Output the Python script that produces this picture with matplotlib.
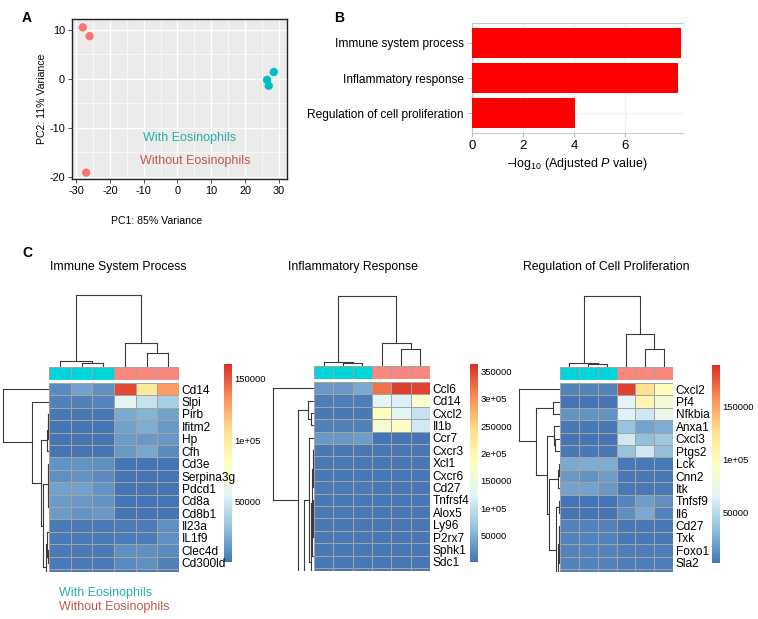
import numpy as np
import matplotlib
matplotlib.use('Agg')
import matplotlib.pyplot as plt
from matplotlib import font_manager
from matplotlib.colors import LinearSegmentedColormap, ListedColormap, Normalize
from matplotlib.cm import ScalarMappable

# ---- data ----
# A: PCA
pc1_with = [26.5, 27.0, 28.5]
pc2_with = [-0.2, -1.4, 1.4]
pc1_without = [-28.0, -26.0, -27.0]
pc2_without = [10.5, 8.7, -19.1]

# B: enrichment
terms = ['Immune system process', 'Inflammatory response', 'Regulation of cell proliferation']
neglog_p = [8.16, 8.05, 4.02]

# C: heatmaps (values in thousands, cols: 3 with eos, 3 without; last row is cut off)
genes1 = ['Cd14', 'Slpi', 'Pirb', 'Ifitm2', 'Hp', 'Cfh', 'Cd3e', 'Serpina3g', 'Pdcd1',
          'Cd8a', 'Cd8b1', 'Il23a', 'IL1f9', 'Clec4d', 'Cd300ld']
vals1 = [[9, 17, 11, 154, 101, 130],
         [6, 6, 7, 57, 46, 36],
         [2, 2, 2, 20, 24, 17],
         [1, 1, 1, 17, 22, 14],
         [1, 1, 1, 15, 14, 14],
         [1, 1, 1, 14, 19, 9],
         [12, 12, 11, 1, 1, 1],
         [11, 12, 9, 1, 1, 1],
         [17, 17, 12, 1, 1, 1],
         [15, 14, 12, 1, 1, 1],
         [15, 12, 14, 1, 1, 1],
         [3, 3, 3, 4, 4, 11],
         [3, 3, 3, 4, 4, 11],
         [3, 3, 3, 11, 11, 9],
         [3, 3, 3, 9, 11, 6],
         [3, 3, 3, 3, 3, 3]]
genes2 = ['Ccl6', 'Cd14', 'Cxcl2', 'Il1b', 'Ccr7', 'Cxcr3', 'Xcl1', 'Cxcr6', 'Cd27',
          'Tnfrsf4', 'Alox5', 'Ly96', 'P2rx7', 'Sphk1', 'Sdc1']
vals2 = [[31, 31, 46, 320, 352, 349],
         [10, 10, 10, 129, 118, 172],
         [6, 6, 6, 183, 130, 103],
         [13, 13, 13, 165, 175, 111],
         [31, 31, 35, 3, 3, 3],
         [6, 6, 6, 4, 4, 4],
         [6, 6, 6, 4, 4, 4],
         [6, 6, 6, 4, 4, 4],
         [7, 7, 7, 4, 4, 4],
         [6, 6, 6, 4, 4, 4],
         [6, 6, 6, 4, 4, 4],
         [6, 6, 6, 4, 4, 4],
         [6, 6, 6, 4, 4, 4],
         [6, 6, 6, 4, 4, 4],
         [6, 6, 6, 4, 4, 4],
         [6, 6, 6, 4, 4, 4]]
genes3 = ['Cxcl2', 'Pf4', 'Nfkbia', 'Anxa1', 'Cxcl3', 'Ptgs2', 'Lck', 'Cnn2', 'Itk',
          'Tnfsf9', 'Il6', 'Cd27', 'Txk', 'Foxo1', 'Sla2']
vals3 = [[8, 8, 8, 183, 124, 99],
         [2, 2, 2, 67, 105, 81],
         [15, 15, 15, 64, 58, 73],
         [4, 4, 4, 36, 21, 26],
         [2, 2, 2, 58, 34, 39],
         [4, 4, 4, 36, 58, 34],
         [24, 26, 26, 4, 4, 4],
         [17, 15, 19, 4, 4, 4],
         [21, 21, 17, 4, 4, 4],
         [2, 2, 2, 9, 19, 13],
         [2, 2, 2, 13, 24, 8],
         [8, 8, 8, 4, 4, 4],
         [8, 8, 8, 4, 4, 4],
         [8, 8, 8, 6, 6, 6],
         [8, 8, 8, 6, 6, 6],
         [8, 8, 8, 6, 6, 6]]
vrange1 = (1, 162)
vrange2 = (2.5, 363)
vrange3 = (2, 189)
cb_ticks1 = [50000, 100000, 150000]
cb_labels1 = ['50000', '1e+05', '150000']
cb_ticks2 = [50000, 100000, 150000, 200000, 250000, 300000, 350000]
cb_labels2 = ['50000', '1e+05', '150000', '2e+05', '250000', '3e+05', '350000']
cb_ticks3 = [50000, 100000, 150000]
cb_labels3 = ['50000', '1e+05', '150000']

# dendrograms: (child a, child b, height in px); extra leaves stand for rows below the crop
col_merges1 = [(1, 2, 4), (0, 6, 6), (4, 5, 14), (3, 8, 24), (7, 9, 72)]
col_merges2 = [(1, 2, 3), (0, 6, 4), (4, 5, 17), (3, 8, 23), (7, 9, 70)]
col_merges3 = [(1, 2, 3), (0, 6, 4), (4, 5, 18), (3, 8, 33), (7, 9, 71)]
hidden1 = [15.5, 16.5, 17.5]
row_merges1 = [(2, 3, 1), (18, 4, 1.5), (19, 5, 2.5), (9, 10, 0.5), (8, 21, 1),
               (6, 7, 0.8), (23, 22, 1.5), (11, 12, 0.5), (13, 14, 0.8), (25, 26, 2.5),
               (15, 16, 1), (28, 17, 1.5), (27, 29, 3.5), (24, 30, 6), (20, 31, 8),
               (1, 32, 17), (0, 33, 46)]
hidden2 = [24.1, 19.25]
row_merges2 = [(2, 3, 3), (1, 17, 6), (5, 6, 0.6), (7, 8, 0.6), (9, 10, 0.8), (11, 12, 0.6),
               (13, 14, 0.5), (19, 20, 1.5), (21, 22, 1.2), (25, 23, 2), (24, 26, 2.5),
               (27, 16, 3), (4, 28, 5), (29, 15, 10), (18, 30, 16), (0, 31, 41)]
hidden3 = [20.8]
row_merges3 = [(1, 2, 7), (4, 5, 5), (3, 17, 6.5), (6, 7, 1.5), (19, 8, 2.5), (9, 10, 1.5),
               (11, 12, 0.8), (13, 14, 0.8), (22, 23, 1.5), (24, 15, 2.5), (21, 25, 4),
               (20, 26, 11), (18, 27, 13), (16, 28, 24), (0, 29, 41)]

TEAL = '#00BFC4'
SALMON = '#F8766D'
ANN_COLS = ['#00D5D9', '#00D5D9', '#00D5D9', '#F8887E', '#F8887E', '#F8887E']

# ---- figure setup ----
names = {f.name for f in font_manager.fontManager.ttflist}
narrow = 'Liberation Sans Narrow' if 'Liberation Sans Narrow' in names else 'Liberation Sans'
plt.rcParams['font.family'] = ['Liberation Sans', 'DejaVu Sans']
plt.rcParams['axes.unicode_minus'] = False
plt.rcParams['mathtext.fontset'] = 'custom'
plt.rcParams['mathtext.rm'] = 'Liberation Sans'
plt.rcParams['mathtext.it'] = 'Liberation Sans:italic'

W, H = 758, 619
fig = plt.figure(figsize=(W / 100, H / 100), dpi=100)


def rect(x0, y0, x1, y1):
    return [x0 / W, 1 - y1 / H, (x1 - x0) / W, (y1 - y0) / H]


def ftext(x, y, s, **kw):
    fig.text(x / W, 1 - y / H, s, **kw)


# ---- A ----
ax = fig.add_axes(rect(72, 19, 287, 179))
ax.set_facecolor('#EBEBEB')
ax.set_xlim(-31.2, 32.4)
ax.set_ylim(-20.4, 12.2)
ax.set_xticks([-30, -20, -10, 0, 10, 20, 30])
ax.set_yticks([-20, -10, 0, 10])
ax.set_xticks(np.arange(-25, 31, 10), minor=True)
ax.set_yticks([-15, -5, 5], minor=True)
ax.grid(which='major', color='white', lw=1.0)
ax.grid(which='minor', color='white', lw=0.5)
ax.set_axisbelow(True)
ax.tick_params(which='minor', length=0)
ax.tick_params(which='major', length=3, width=0.6, color='#333333', labelsize=7.8, pad=2)
for lab in ax.get_xticklabels() + ax.get_yticklabels():
    lab.set_family(narrow)
for sp in ax.spines.values():
    sp.set_color('#222222')
    sp.set_linewidth(1.0)
ax.scatter(pc1_without, pc2_without, s=36, color=SALMON, zorder=3, edgecolors='none')
ax.scatter(pc1_with, pc2_with, s=36, color=TEAL, zorder=3, edgecolors='none')
ax.set_ylabel('PC2: 11% Variance', fontsize=7.6, labelpad=2)
ftext(157, 221, 'PC1: 85% Variance', fontsize=7.6, ha='center', va='center')
ftext(143, 138, 'With Eosinophils', fontsize=9, color='#2AADA8', va='center')
ftext(140, 161, 'Without Eosinophils', fontsize=9, color='#C0574A', va='center')
ftext(22, 18, 'A', fontsize=10, weight='bold', va='center')

# ---- B ----
ax = fig.add_axes(rect(472, 23, 683, 133))
ypos = np.arange(len(terms))
ax.barh(ypos, neglog_p, height=0.86, color='#FF0000', zorder=3)
ax.set_xlim(0, 8.25)
ax.set_ylim(2.57, -0.57)
ax.set_yticks(ypos)
ax.set_yticklabels(terms, fontsize=8.6)
ax.set_xticks([0, 2, 4, 6])
ax.tick_params(axis='x', labelsize=9.5, length=3, color='#BBBBBB', pad=2)
ax.tick_params(axis='y', length=3, color='#BBBBBB', pad=3)
ax.grid(color='#EDEDED', lw=0.6)
ax.set_axisbelow(True)
for k in ('left', 'bottom', 'top'):
    ax.spines[k].set_color('#C8C8C8')
    ax.spines[k].set_linewidth(0.8)
ax.spines['right'].set_visible(False)
ax.set_xlabel(r'–log$_{10}$ (Adjusted $P$ value)', fontsize=9, labelpad=3)
ftext(334, 18, 'B', fontsize=10, weight='bold', va='center')

# ---- C ----
ftext(22, 253, 'C', fontsize=10, weight='bold', va='center')

cmap = LinearSegmentedColormap.from_list(
    'rdylbu_r', ['#4575B4', '#91BFDB', '#E0F3F8', '#FFFFBF', '#FEE090', '#FC8D59', '#D73027'])
ROW_H = 12.4
VIS_ROWS = 15.25


def dendro(ax, leaf_pos, merges, horizontal):
    pos = list(leaf_pos)
    hts = [0.0] * len(pos)
    for a, b, h in merges:
        for p, h0 in ((pos[a], hts[a]), (pos[b], hts[b])):
            if horizontal:
                ax.plot([h0, h], [p, p], color='#3A3A3A', lw=0.8)
            else:
                ax.plot([p, p], [h0, h], color='#3A3A3A', lw=0.8)
        if horizontal:
            ax.plot([h, h], [pos[a], pos[b]], color='#3A3A3A', lw=0.8)
        else:
            ax.plot([pos[a], pos[b]], [h, h], color='#3A3A3A', lw=0.8)
        pos.append((pos[a] + pos[b]) / 2)
        hts.append(h)
    ax.axis('off')


def heatmap(left, right, ann_top, title, title_x, genes, vals, vrange, hidden,
            row_merges, col_merges, cb_x, cb_top, ticks, labels):
    top = ann_top + 16
    bottom = top + ROW_H * VIS_ROWS
    data = np.array(vals) * 1000.0
    vmin, vmax = vrange[0] * 1000, vrange[1] * 1000

    # colorbar (drawn first so gene labels sit on top of it)
    cax = fig.add_axes(rect(cb_x, cb_top, cb_x + 8, cb_top + 198))
    cb = fig.colorbar(ScalarMappable(Normalize(vmin, vmax), cmap), cax=cax)
    cb.outline.set_visible(False)
    cb.set_ticks(ticks)
    cb.set_ticklabels(labels)
    cax.tick_params(length=0, labelsize=6.8, pad=2)

    ax = fig.add_axes(rect(left, top, right, bottom))
    ax.set_zorder(5)
    ax.pcolormesh(data, cmap=cmap, vmin=vmin, vmax=vmax, edgecolors='#A3A3A3', linewidth=0.6)
    ax.set_xlim(0, 6)
    ax.set_ylim(VIS_ROWS, 0)
    ax.set_xticks([])
    ax.yaxis.tick_right()
    ax.set_yticks(np.arange(len(genes)) + 0.5)
    ax.set_yticklabels(genes, fontsize=8.6)
    ax.tick_params(axis='y', length=0, pad=2)
    for sp in ax.spines.values():
        sp.set_visible(False)

    # annotation bar
    ax = fig.add_axes(rect(left, ann_top, right, ann_top + 13))
    ax.pcolormesh(np.arange(6).reshape(1, 6), cmap=ListedColormap(ANN_COLS),
                  edgecolors='#A3A3A3', linewidth=0.6)
    ax.set_xlim(0, 6)
    ax.axis('off')

    # column dendrogram
    ax = fig.add_axes(rect(left, ann_top - 80, right, ann_top))
    dendro(ax, np.arange(6) + 0.5, col_merges, False)
    ax.set_xlim(0, 6)
    ax.set_ylim(0, 80)

    # row dendrogram
    ax = fig.add_axes(rect(left - 48, top, left, bottom))
    dendro(ax, list(np.arange(len(genes)) + 0.5) + hidden, row_merges, True)
    ax.set_xlim(48, 0)
    ax.set_ylim(VIS_ROWS, 0)

    ftext(title_x, 267, title, fontsize=8.8, va='center')


heatmap(49, 179, 367, 'Immune System Process', 50, genes1, vals1, vrange1, hidden1,
        row_merges1, col_merges1, 224, 364, cb_ticks1, cb_labels1)
heatmap(314, 430, 366, 'Inflammatory Response', 288, genes2, vals2, vrange2, hidden2,
        row_merges2, col_merges2, 470, 364, cb_ticks2, cb_labels2)
heatmap(560, 673, 367, 'Regulation of Cell Proliferation', 523, genes3, vals3, vrange3, hidden3,
        row_merges3, col_merges3, 712, 365, cb_ticks3, cb_labels3)

ftext(59, 593, 'With Eosinophils', fontsize=9, color='#2AADA8', va='center')
ftext(59, 607, 'Without Eosinophils', fontsize=9, color='#C0574A', va='center')

fig.savefig('out.png', dpi=100)
